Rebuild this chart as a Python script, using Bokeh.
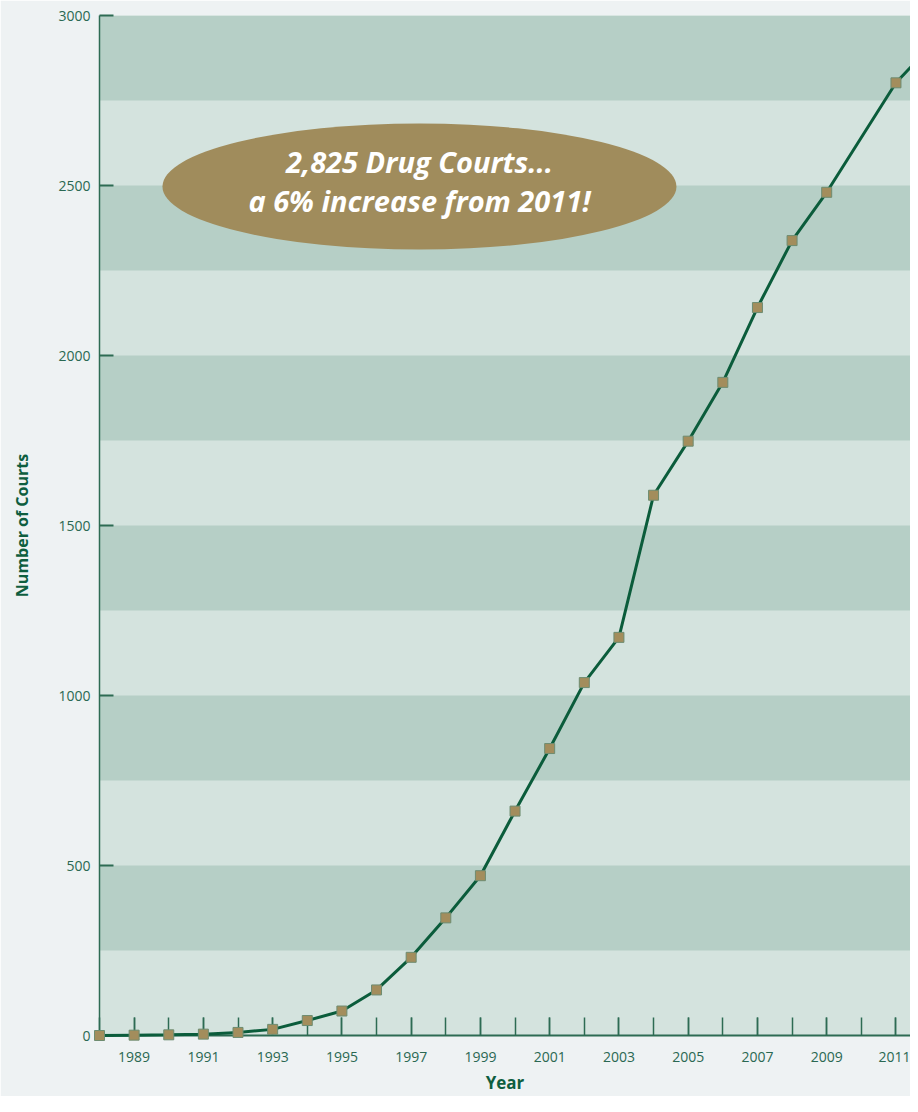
from bokeh.plotting import figure
from bokeh.models import BoxAnnotation, FixedTicker, ColumnDataSource, Ellipse, Text
from bokeh.embed import file_html
from bokeh.resources import INLINE
from bokeh.core.properties import value

# ---------------- data ----------------
years = [1988, 1989, 1990, 1991, 1992, 1993, 1994, 1995, 1996, 1997, 1998,
         1999, 2000, 2001, 2002, 2003, 2004, 2005, 2006, 2007, 2008, 2009,
         2011, 2012]
courts = [0, 1, 2, 4, 9, 18, 44, 72, 134, 230, 346,
          470, 660, 844, 1038, 1171, 1589, 1748, 1921, 2141, 2338, 2480,
          2802, 2910]

y_ticks = [0, 500, 1000, 1500, 2000, 2500, 3000]
x_label_years = [1989, 1991, 1993, 1995, 1997, 1999, 2001, 2003, 2005, 2007, 2009, 2011]
x_all_years = list(range(1988, 2012))
dark_bands = [(250, 500), (750, 1000), (1250, 1500), (1750, 2000), (2250, 2500), (2750, 3000)]

callout_lines = ["2,825 Drug Courts...", "a 6% increase from 2011!"]
callout_center = (1997.24, 2497)

# ---------------- style ----------------
PAGE_BG = "#eef2f3"
LIGHT_BAND = "#d4e3de"
DARK_BAND = "#b6cfc6"
AXIS = "#2d6b53"
LABEL = "#2a6852"
TITLE_GREEN = "#0e5e3f"
LINE = "#0b5c3b"
MARKER = "#a38d5c"
MARKER_EDGE = "#6e8c70"
OVAL = "#a08c5c"

FONT = "Open Sans"

p = figure(width=910, height=1096,
           x_range=(1988, 2011.42), y_range=(0, 3000),
           output_backend="svg", toolbar_location=None,
           min_border_left=99, min_border_right=0,
           min_border_top=15, min_border_bottom=61)

p.background_fill_color = LIGHT_BAND
p.border_fill_color = PAGE_BG
p.outline_line_color = None
p.xgrid.visible = False
p.ygrid.visible = False

for lo, hi in dark_bands:
    p.add_layout(BoxAnnotation(bottom=lo, top=hi, fill_color=DARK_BAND,
                               fill_alpha=1.0, line_color=None, level="underlay"))

# x axis
xa = p.xaxis[0]
xa.ticker = FixedTicker(ticks=x_label_years, minor_ticks=x_all_years)
xa.axis_line_color = AXIS
xa.axis_line_width = 2
xa.major_tick_in = 18
xa.major_tick_out = 0
xa.minor_tick_in = 18
xa.minor_tick_out = 0
xa.major_tick_line_color = AXIS
xa.minor_tick_line_color = AXIS
xa.major_tick_line_width = 1.5
xa.minor_tick_line_width = 1.5
xa.major_label_text_font = FONT
xa.major_label_text_font_size = "14px"
xa.major_label_text_color = LABEL
xa.major_label_standoff = 16
xa.axis_label = "Year"
xa.axis_label_text_font = FONT
xa.axis_label_text_font_size = "17px"
xa.axis_label_text_font_style = "bold"
xa.axis_label_text_color = TITLE_GREEN
xa.axis_label_standoff = 6

# y axis
ya = p.yaxis[0]
ya.ticker = FixedTicker(ticks=y_ticks)
ya.axis_line_color = AXIS
ya.axis_line_width = 1.5
ya.major_tick_in = 14
ya.major_tick_out = 0
ya.minor_tick_line_color = None
ya.major_tick_line_color = AXIS
ya.major_tick_line_width = 2
ya.major_label_text_font = FONT
ya.major_label_text_font_size = "14px"
ya.major_label_text_color = LABEL
ya.major_label_standoff = 9
ya.axis_label = "Number of Courts"
ya.axis_label_text_font = FONT
ya.axis_label_text_font_size = "16px"
ya.axis_label_text_font_style = "bold"
ya.axis_label_text_color = TITLE_GREEN
ya.axis_label_standoff = 22

# callout oval
oval_src = ColumnDataSource(dict(x=[callout_center[0]], y=[callout_center[1]]))
p.add_glyph(oval_src, Ellipse(x="x", y="y", width=514, height=126,
                              width_units="screen", height_units="screen",
                              fill_color=OVAL, line_color=None))

txt_src = ColumnDataSource(dict(x=[callout_center[0]] * 2, y=[callout_center[1]] * 2,
                                text=callout_lines, dy=[-25, 14]))
p.add_glyph(txt_src, Text(x="x", y="y", text="text", y_offset="dy",
                          text_align="center", text_baseline="middle",
                          text_color="white", text_font_size="29px",
                          text_font_style="bold italic",
                          text_font=value(FONT)))

# data line and markers
src = ColumnDataSource(dict(year=years, courts=courts))
p.line("year", "courts", source=src, line_color=LINE, line_width=3, level="overlay")
p.scatter("year", "courts", source=src, marker="square", size=10,
          fill_color=MARKER, line_color=MARKER_EDGE, line_width=1, level="overlay")

open("out.html", "w").write(file_html(p, INLINE))
